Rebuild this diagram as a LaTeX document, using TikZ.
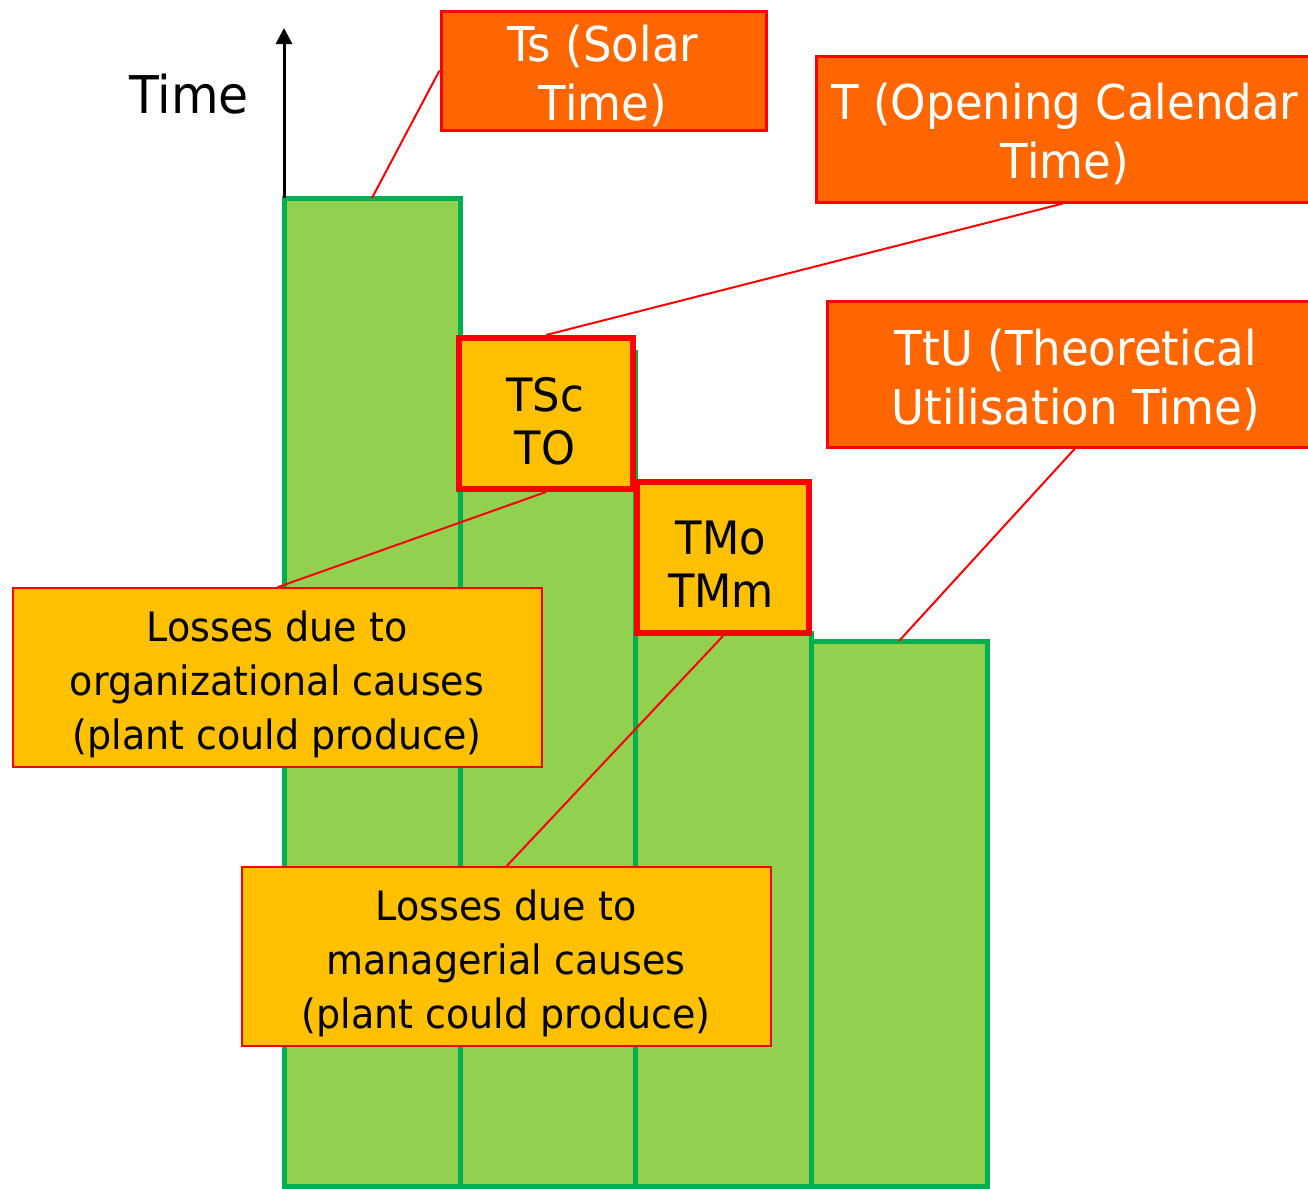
\documentclass[tikz,border=0pt]{standalone}
\usepackage{fontspec}
\setmainfont{DejaVu Sans}[FakeStretch=0.94]
\usetikzlibrary{fit,arrows.meta}
\definecolor{barfill}{HTML}{92D050}
\definecolor{barline}{HTML}{00B050}
\definecolor{hot}{HTML}{FF6600}
\definecolor{gold}{HTML}{FFC000}
\definecolor{edge}{HTML}{FF0000}

\begin{document}
\begin{tikzpicture}[x=0.5pt,y=-0.5pt,
  bar/.style={draw=barline, fill=barfill, line width=2.5pt, inner sep=0pt, outer sep=0pt},
  timebox/.style={draw=edge, fill=hot, line width=1.5pt, inner sep=0pt},
  lossbox/.style={draw=edge, fill=gold, line width=0.75pt, inner sep=0pt},
  codebox/.style={draw=edge, fill=gold, line width=3pt, inner sep=0pt},
  leader/.style={draw=edge, line width=1pt},
  axis/.style={draw=black, line width=1.5pt, -{Triangle[length=8pt,width=8pt]}},
  label/.style={inner sep=0pt, align=center},
  bigwhite/.style={label, text=white, font=\fontsize{24}{29.5}\selectfont},
  codetext/.style={label, text=black, font=\fontsize{23}{26.5}\selectfont},
  losstext/.style={label, text=black, font=\fontsize{20.25}{27}\selectfont}]
\useasboundingbox (0,0) rectangle (1308,1189);

% columns of the time stack
\node[bar, fit={(284,198) (460,1186)}] (b1) {};
\node[bar, fit={(460,352) (635,1186)}] (b2) {};
\node[bar, fit={(635,633) (811,1186)}] (b3) {};
\node[bar, fit={(811,641) (987,1186)}] (b4) {};

% vertical axis
\coordinate (axtop) at (284,28);
\draw[axis] (b1.north west) -- (axtop);
\node[inner sep=0pt, anchor=base, font=\fontsize{26}{30}\selectfont] (axlabel) at (189,113) {Time};

% boxes
\node[timebox, fit={(441,11) (766,130)}] (ts) {};
\node[timebox, fit={(816,56) (1310,202)}] (topen) {};
\node[timebox, fit={(827,301) (1323,447)}] (ttu) {};
\node[lossbox, fit={(13,588) (542,767)}] (org) {};
\node[lossbox, fit={(242,867) (771,1046)}] (man) {};

% leader lines
\draw[leader] (ts.west) -- (b1.north);
\draw[leader] (ttu.south) -- (b4.north);

\node[codebox, fit={(459,338) (633,489)}] (tsc) {};
\node[codebox, fit={(637,482) (809,633)}] (tmo) {};

\draw[leader] (topen.south) -- (tsc.north);
\draw[leader] (tsc.south) -- (org.north);
\draw[leader] (tmo.south) -- (man.north);

% texts
\node[bigwhite] (tstext) at (603,79.4) {Ts (Solar\strut\\Time)\strut};
\node[bigwhite] (topentext) at (1065,136.7) {T (Opening Calendar\strut\\Time)\strut};
\node[bigwhite] (ttutext) at (1076,382.7) {TtU (Theoretical\strut\\Utilisation Time)\strut};
\node[codetext] (tsctext) at (545,426.9) {TSc\strut\\TO\strut};
\node[codetext] (tmotext) at (721,570.6) {TMo\strut\\TMm\strut};
\node[losstext] (orgtext) at (277,684.2) {Losses due to\strut\\organizational causes\strut\\(plant could produce)\strut};
\node[losstext] (mantext) at (506,963.2) {Losses due to\strut\\managerial causes\strut\\(plant could produce)\strut};
\end{tikzpicture}
\end{document}
